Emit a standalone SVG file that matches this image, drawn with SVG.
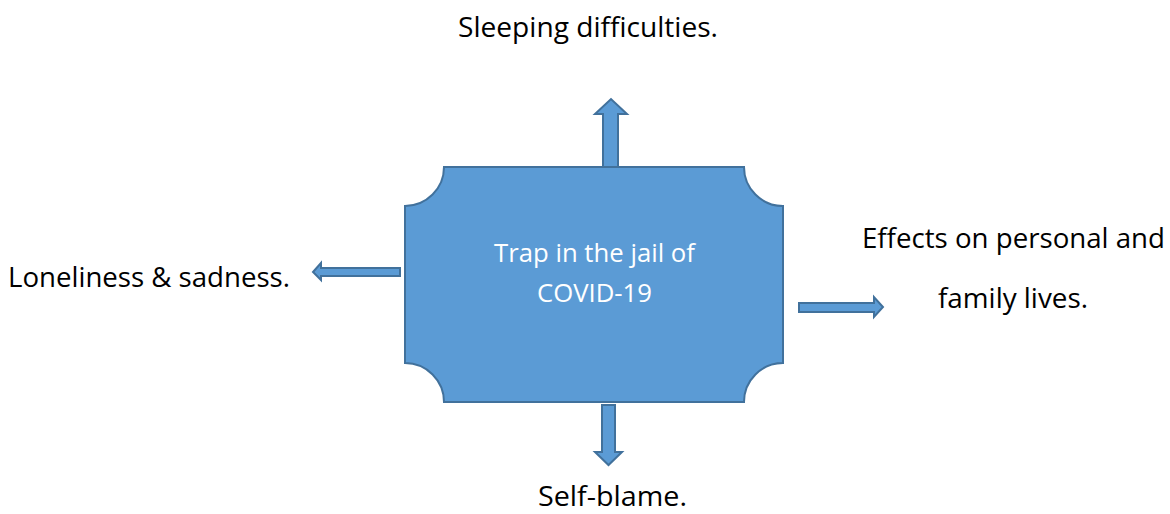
<svg xmlns="http://www.w3.org/2000/svg" width="1170" height="514" viewBox="0 0 1170 514">
<style>
.shape{fill:#5B9BD5;stroke:#41719C;stroke-width:2}
.lbl{font-family:"Open Sans","Noto Sans",sans-serif;font-size:28px;fill:#000}
.in{font-family:"Open Sans","Noto Sans",sans-serif;font-size:25px;fill:#fff}
</style>
<rect width="1170" height="514" fill="#fff"/>
<g id="connectors">
<path class="shape" d="M603,167 L603,114 L595,114 L611,99 L627,114 L618,114 L618,167 Z"/>
<path class="shape" d="M602,405 L615,405 L615,452 L622,452 L608.5,465 L595,452 L602,452 Z"/>
<path class="shape" d="M400,268 L321,268 L321,263 L313,272 L321,280 L321,276 L400,276 Z"/>
<path class="shape" d="M799,303 L874,303 L874,297 L883,307 L874,317 L874,312 L799,312 Z"/>
</g>
<g id="center">
<path class="shape" d="M444,167 L744,167 A39,39 0 0 0 783,206 L783,363 A39,39 0 0 0 744,402 L444,402 A39,39 0 0 0 405,363 L405,206 A39,39 0 0 0 444,167 Z"/>
<text class="in" x="494" y="262" textLength="201" lengthAdjust="spacingAndGlyphs">Trap in the jail of</text>
<text class="in" x="537" y="302" textLength="115" lengthAdjust="spacingAndGlyphs">COVID-19</text>
</g>
<g id="top"><text class="lbl" x="458" y="37" textLength="260" lengthAdjust="spacingAndGlyphs">Sleeping difficulties.</text></g>
<g id="left"><text class="lbl" x="8" y="287" textLength="282" lengthAdjust="spacingAndGlyphs">Loneliness &amp; sadness.</text></g>
<g id="right">
<text class="lbl" x="862" y="248" textLength="303" lengthAdjust="spacingAndGlyphs">Effects on personal and</text>
<text class="lbl" x="938" y="308" textLength="150" lengthAdjust="spacingAndGlyphs">family lives.</text>
</g>
<g id="bottom"><text class="lbl" x="538" y="506" textLength="149" lengthAdjust="spacingAndGlyphs">Self-blame.</text></g>
</svg>
